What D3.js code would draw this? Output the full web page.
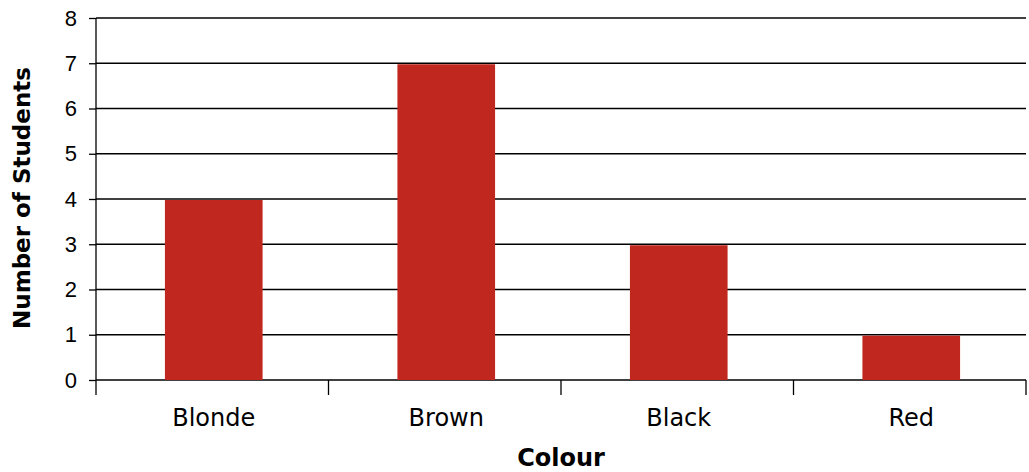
<!DOCTYPE html>
<html>
<head>
<meta charset="utf-8">
<script src="https://cdn.jsdelivr.net/npm/d3@7"></script>
<style>
    body { margin: 0; background: #fff; }
    svg { display: block; }
    .y.axis text { font-family: 'Liberation Sans', Arial, sans-serif; font-size: 22px; }
</style>
</head>
<body>
<script>
// hair colour survey - bar chart

var colours = ["Blonde", "Brown", "Black", "Red"];
var students = [4, 7, 3, 1];
var yTicks = [0, 1, 2, 3, 4, 5, 6, 7, 8];

var margin = { top: 18, right: 3, bottom: 92, left: 96 };
var width = 1029 - margin.left - margin.right,
    height = 472 - margin.top - margin.bottom;

var svg = d3.select("body").append("svg")
    .attr("width", 1029)
    .attr("height", 472)
    .append("g")
    .attr("transform", "translate(" + margin.left + "," + margin.top + ")");

var xScale = d3.scaleBand()
    .domain(colours)
    .range([0, width]);

// bars are narrower than the category band
var barScale = d3.scaleBand()
    .domain(colours)
    .range([0, width])
    .paddingInner(0.58)
    .paddingOuter(0.29);

var yScale = d3.scaleLinear()
    .domain([0, 8])
    .range([height, 0]);

// gridlines
svg.append("g")
    .selectAll("line")
    .data(yTicks)
    .enter().append("line")
    .attr("x1", 0)
    .attr("x2", width)
    .attr("y1", function (d) { return yScale(d) })
    .attr("y2", function (d) { return yScale(d) })
    .attr("stroke", "#000")
    .attr("stroke-width", 1.3);

// bars
svg.selectAll(".bar")
    .data(colours)
    .enter().append("rect")
    .attr("class", "bar")
    .attr("x", function (d) { return barScale(d) + 1.5 })
    .attr("y", function (d, i) { return yScale(students[i]) + 1 })
    .attr("width", barScale.bandwidth())
    .attr("height", function (d, i) { return height - yScale(students[i]) - 1 })
    .attr("fill", "#c0271e");

// y axis
var yAxis = d3.axisLeft(yScale)
    .tickValues(yTicks)
    .tickSize(7)
    .tickPadding(12);

var yAxisGroup = svg.append("g")
    .attr("class", "y axis")
    .attr("font-size", 22)
    .call(yAxis);
yAxisGroup.attr("font-size", 22).attr("font-family", "Liberation Sans, Arial, sans-serif");
yAxisGroup.select(".domain").attr("stroke-width", 1.3).attr("d", "M0,0V" + (height + 15));
yAxisGroup.selectAll("line").attr("stroke-width", 1.3);
yAxisGroup.selectAll("text").attr("fill", "#000");

// x axis: ticks sit at band boundaries
var xAxisGroup = svg.append("g")
    .attr("class", "x axis")
    .attr("transform", "translate(0," + height + ")");

xAxisGroup.selectAll(".sep")
    .data(d3.range(1, colours.length + 1))
    .enter().append("line")
    .attr("class", "sep")
    .attr("x1", function (i) { return i * xScale.step() })
    .attr("x2", function (i) { return i * xScale.step() })
    .attr("y1", 0)
    .attr("y2", 15)
    .attr("stroke", "#000")
    .attr("stroke-width", 1.3);

xAxisGroup.selectAll(".cat")
    .data(colours)
    .enter().append("text")
    .attr("class", "cat")
    .attr("x", function (d) { return xScale(d) + xScale.bandwidth() / 2 + 1.5 })
    .attr("y", 46)
    .attr("text-anchor", "middle")
    .attr("font-family", "DejaVu Sans, Verdana, sans-serif")
    .attr("font-size", "24px")
    .text(function (d) { return d });

// axis titles
svg.append("text")
    .attr("x", width / 2)
    .attr("y", height + 86)
    .attr("text-anchor", "middle")
    .attr("font-family", "DejaVu Sans, Verdana, sans-serif")
    .attr("font-weight", "bold")
    .attr("font-size", "24px")
    .text("Colour");

svg.append("text")
    .attr("transform", "translate(" + (-66) + "," + (height / 2 - 1) + ") rotate(-90)")
    .attr("text-anchor", "middle")
    .attr("font-family", "DejaVu Sans, Verdana, sans-serif")
    .attr("font-weight", "bold")
    .attr("font-size", "23px")
    .text("Number of Students");
</script>
</body>
</html>
